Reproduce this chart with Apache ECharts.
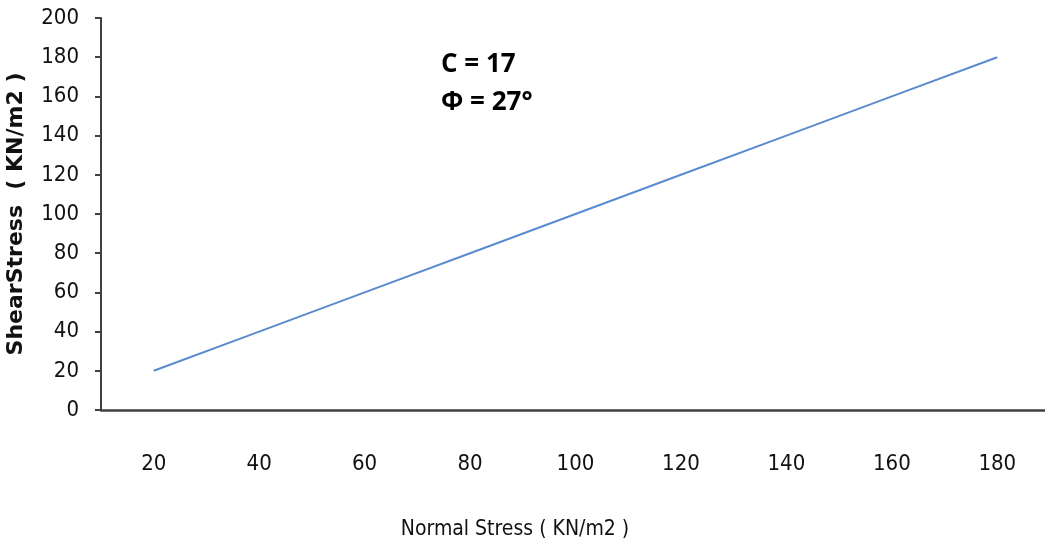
<!DOCTYPE html>
<html><head><meta charset="utf-8">
<script src="https://cdn.jsdelivr.net/npm/echarts@6/dist/echarts.min.js"></script>
<style>html,body{margin:0;padding:0;background:#fff}#c{width:1045px;height:548px}</style>
</head><body><div id="c"></div>
<script>
var categories = ['20','40','60','80','100','120','140','160','180'];
var shearStress = [20,40,60,80,100,120,140,160,180];
var yTicks = {min:0, max:200, interval:20};
var notes = ['C = 17', 'Φ = 27°'];
var xTitle = 'Normal Stress ( KN/m2 )';
var yTitle = 'ShearStress  ( KN/m2 )';

var narrow = '"Liberation Sans Narrow", "DejaVu Sans Condensed", sans-serif';
var chart = echarts.init(document.getElementById('c'));
chart.setOption({
  animation:false,
  backgroundColor:'#fff',
  grid:{left:101, top:18, bottom:138, right:-5, containLabel:false, outerBoundsMode:'none'},
  xAxis:{
    type:'category', data:categories, boundaryGap:true,
    axisLine:{lineStyle:{color:'#404040', width:2.5}},
    axisTick:{show:false},
    axisLabel:{margin:43, fontFamily:narrow, fontSize:22, color:'#111'}
  },
  yAxis:{
    type:'value', min:yTicks.min, max:yTicks.max, interval:yTicks.interval,
    splitLine:{show:false},
    axisLine:{show:true, lineStyle:{color:'#404040', width:2}},
    axisTick:{show:true, length:6, lineStyle:{color:'#404040', width:2}},
    axisLabel:{margin:22, fontFamily:narrow, fontSize:22, color:'#111'},
    name:yTitle, nameLocation:'middle', nameGap:74, nameRotate:90,
    nameTextStyle:{fontFamily:'"DejaVu Sans"', fontSize:22, fontWeight:'bold', color:'#111'}
  },
  graphic:[
    {type:'text', x:515, y:530, style:{text:xTitle, font:'21px "DejaVu Sans Condensed"', fill:'#111', align:'center', verticalAlign:'middle'}},
    {type:'text', x:441, y:65, style:{text:notes[0], font:'bold 26px "Open Sans"', fill:'#000', verticalAlign:'middle'}},
    {type:'text', x:441, y:103, style:{text:notes[1], font:'bold 26px "Open Sans"', fill:'#000', verticalAlign:'middle'}}
  ],
  series:[{
    type:'line', data:shearStress, symbol:'none',
    lineStyle:{color:'#5b8bcf', width:2}
  }]
});
</script></body></html>
